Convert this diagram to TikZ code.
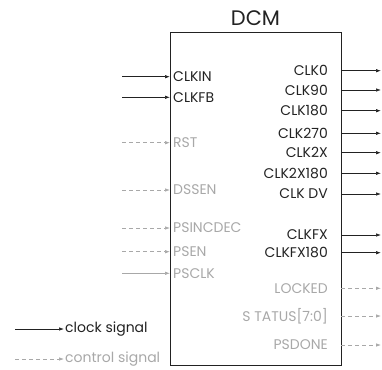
\documentclass[tikz,border=0pt]{standalone}
\usepackage{fontspec}
\setmainfont{Poppins}
\usetikzlibrary{arrows.meta}
\definecolor{ctl}{HTML}{A8A8A8}
\definecolor{clk}{HTML}{222222}
\tikzset{
  lab/.style={font=\fontsize{14}{16}\selectfont, inner sep=0pt},
  clkarrow/.style={draw=clk, line width=0.7pt, -{Latex[length=5pt,width=3.5pt]}},
  ctlarrow/.style={draw=ctl, line width=0.7pt, dash pattern=on 4pt off 3pt, -{Latex[length=5pt,width=3.5pt]}},
  ctlsolid/.style={draw=ctl, line width=0.7pt, -{Latex[length=5pt,width=3.5pt]}},
}
\begin{document}
\begin{tikzpicture}[x=1pt,y=-1pt]
\useasboundingbox (0,0) rectangle (382,369);
\node[draw=clk, line width=1.2pt, minimum width=171pt, minimum height=333pt, anchor=north west, inner sep=0pt] (box) at (170,32) {};
\node[font=\fontsize{21}{24}\selectfont, text=clk, inner sep=0pt] (title) at (255.5,18) {DCM};
% left inputs
\foreach \name/\y/\txt/\sty/\col in {clkin/76.7/CLKIN/clkarrow/clk, clkfb/97.3/CLKFB/clkarrow/clk, rst/142.7/RST/ctlarrow/ctl, dssen/190/DSSEN/ctlarrow/ctl, psincdec/228/PSINCDEC/ctlarrow/ctl, psen/251.7/PSEN/ctlarrow/ctl, psclk/273.3/PSCLK/ctlsolid/ctl}{
  \coordinate (\name-s) at (122,\y);
  \coordinate (\name-e) at (170,\y);
  \node[lab, text=\col, anchor=west] (\name) at (173,\y) {\txt};
  \draw[\sty] (\name-s) -- (\name-e);
}
% right outputs
\foreach \name/\y/\txt/\sty/\col in {clk0/70.7/CLK0/clkarrow/clk, clk90/90/CLK90/clkarrow/clk, clk180/110.7/CLK180/clkarrow/clk, clk270/133.3/CLK270/clkarrow/clk, clk2x/152.7/CLK2X/clkarrow/clk, clk2x180/173.3/CLK2X180/clkarrow/clk, clkdv/194/CLK DV/clkarrow/clk, clkfx/235/CLKFX/clkarrow/clk, clkfx180/252.7/CLKFX180/clkarrow/clk, locked/288.3/LOCKED/ctlarrow/ctl, status/316/S TATUS[7:0]/ctlarrow/ctl, psdone/345/PSDONE/ctlarrow/ctl}{
  \coordinate (\name-s) at (341,\y);
  \coordinate (\name-e) at (381,\y);
  \node[lab, text=\col, anchor=east] (\name) at (328,\y) {\txt};
  \draw[\sty] (\name-s) -- (\name-e);
}
% legend
\coordinate (lg1s) at (15,329);
\coordinate (lg1e) at (64,329);
\coordinate (lg2s) at (15,359);
\coordinate (lg2e) at (64,359);
\draw[clkarrow] (lg1s) -- (lg1e);
\draw[ctlarrow] (lg2s) -- (lg2e);
\node[lab, text=clk, anchor=west] (lgclk) at (65,329) {clock signal};
\node[lab, text=ctl, anchor=west] (lgctl) at (65,359) {control signal};
\end{tikzpicture}
\end{document}
